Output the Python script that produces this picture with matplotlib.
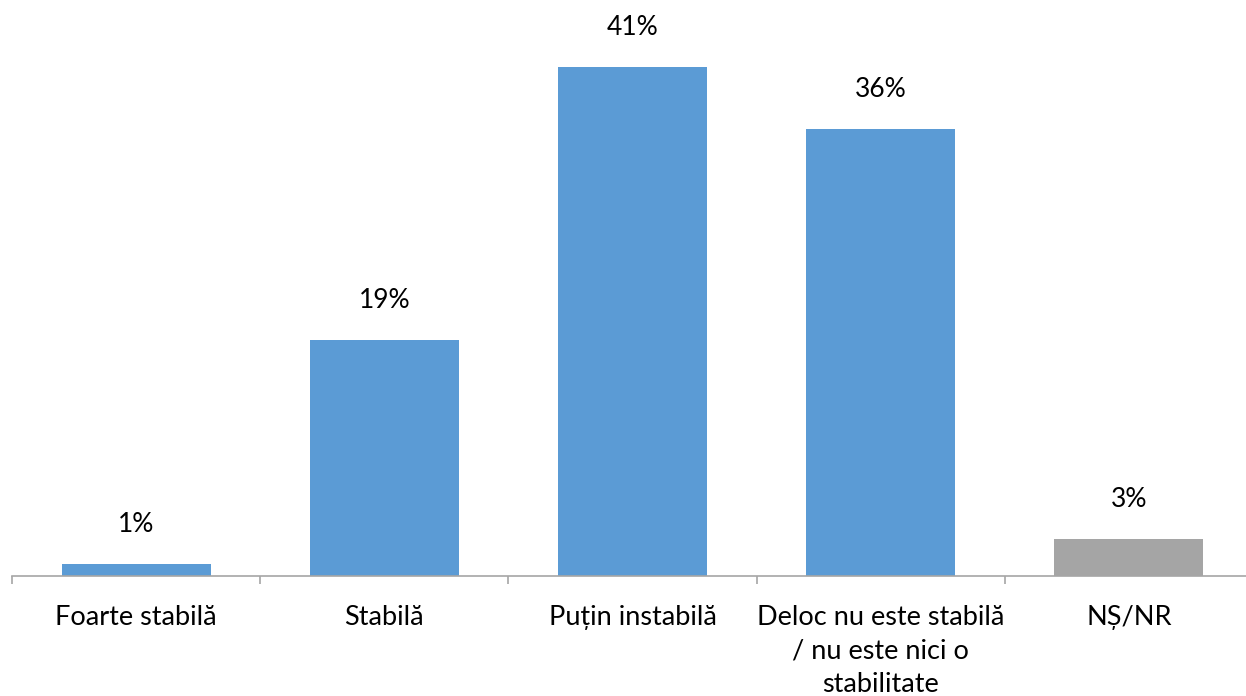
import matplotlib
matplotlib.use("Agg")
import matplotlib.pyplot as plt

categories = ["Foarte stabilă", "Stabilă", "Puțin instabilă",
              "Deloc nu este stabilă\n/ nu este nici o\nstabilitate", "NȘ/NR"]
values = [1, 19, 41, 36, 3]
labels = ["1%", "19%", "41%", "36%", "3%"]
colors = ["#5B9BD5", "#5B9BD5", "#5B9BD5", "#5B9BD5", "#A5A5A5"]

plt.rcParams['font.family'] = ['Lato', 'DejaVu Sans']

W, H = 1246, 696
fig = plt.figure(figsize=(W / 100, H / 100), dpi=100)
ppu = 12.41
ymax = 45
left_px, right_px = 12, 1253
base_px = 576
ax = fig.add_axes([left_px / W, (H - base_px) / H, (right_px - left_px) / W, ymax * ppu / H])

x = list(range(len(categories)))
ax.bar(x, values, width=0.6, color=colors, zorder=2)
ax.set_xlim(-0.5, len(categories) - 0.5)
ax.set_ylim(0, ymax)

for xi, v, lab in zip(x, values, labels):
    ax.annotate(lab, (xi, v), xytext=(0, 23), textcoords="offset points",
                ha="center", va="baseline", fontsize=19, color="#000000")

for s in ["top", "right", "left"]:
    ax.spines[s].set_visible(False)
ax.spines["bottom"].set_color("#A6A6A6")
ax.spines["bottom"].set_linewidth(1.2)
ax.set_yticks([])

ax.set_xticks([i - 0.5 for i in range(len(categories) + 1)], minor=False)
ax.set_xticklabels([])
ax.tick_params(axis="x", which="major", length=6, width=1.2, color="#A6A6A6")
ax.set_xticks(x, minor=True)
ax.set_xticklabels(categories, minor=True, fontsize=19.5, linespacing=1.42)
ax.tick_params(axis="x", which="minor", length=0, pad=21)

fig.savefig("out.png", dpi=100)
